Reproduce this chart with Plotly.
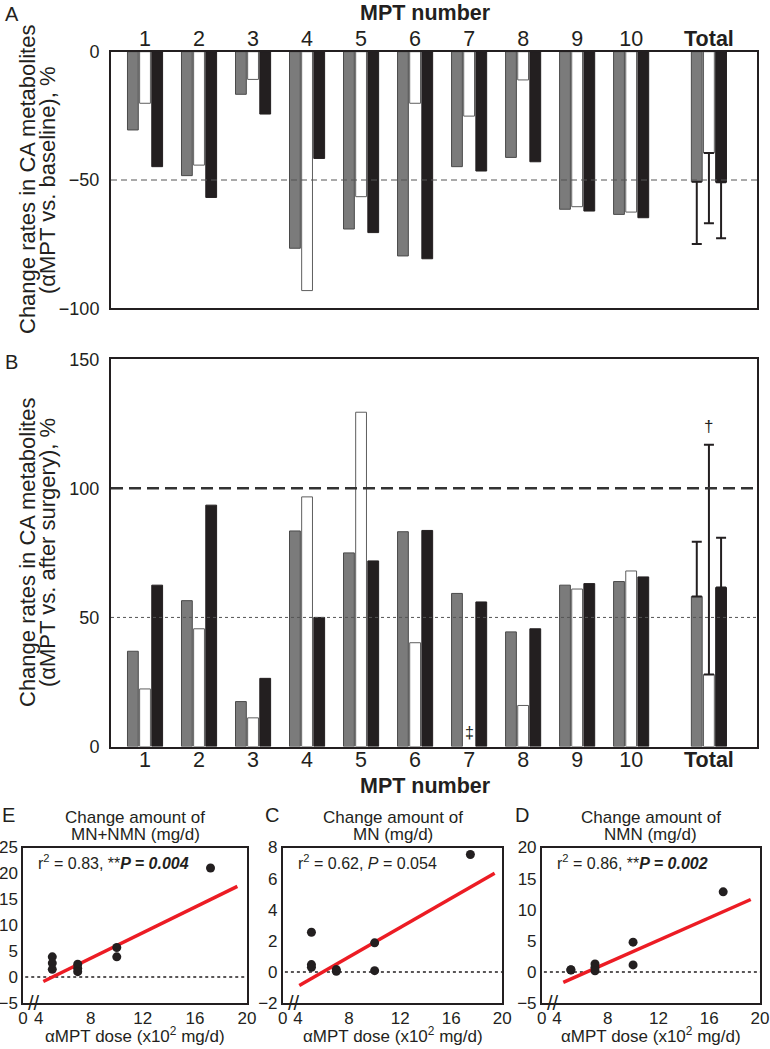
import plotly.graph_objects as go

FONT = "Liberation Sans, Arial, sans-serif"
INK = "#231f20"
W_PX, H_PX = 770, 1049

# ---------------- data ----------------
categories = ["1", "2", "3", "4", "5", "6", "7", "8", "9", "10", "Total"]

# Panel A: change rates vs. baseline (%)
a_gray = [-30.5, -48.3, -16.6, -76.6, -69.1, -79.6, -44.8, -41.2, -61.4, -63.4, -50.7]
a_white = [-20.1, -44.2, -10.8, -93.1, -56.5, -20.1, -25.1, -11.0, -60.4, -62.5, -39.5]
a_black = [-44.8, -56.8, -24.3, -41.6, -70.5, -80.7, -46.5, -42.9, -62.1, -64.7, -50.9]
a_total_err = [24.2, 27.4, 21.8]          # gray, white, black (downward SD)

# Panel B: change rates vs. after surgery (%)
b_gray = [36.9, 56.5, 17.4, 83.5, 75.0, 83.2, 59.3, 44.4, 62.5, 63.9, 58.1]
b_white = [22.3, 45.6, 11.1, 96.7, 129.5, 40.2, None, 15.9, 61.0, 68.0, 27.9]
b_black = [62.5, 93.5, 26.4, 50.0, 71.9, 83.7, 56.0, 45.6, 63.1, 65.7, 61.6]
b_total_err = [21.2, 89.0, 19.3]          # gray, white, black (upward SD)

# Scatter panels: αMPT dose (x10^2 mg/d) vs change amount (mg/d)
e_dose = [5.05, 5.05, 5.05, 7.0, 7.0, 7.0, 10.0, 10.0, 17.2]
e_val = [3.9, 2.7, 1.5, 2.5, 1.7, 1.05, 5.7, 3.9, 21.05]
e_fit_x = [4.36, 19.26]
e_fit_y = [-0.86, 17.5]

c_dose = [5.05, 5.05, 5.05, 7.0, 7.0, 10.0, 10.0, 17.5]
c_val = [2.55, 0.47, 0.3, 0.15, 0.04, 1.87, 0.08, 7.55]
c_fit_x = [4.1, 19.4]
c_fit_y = [-0.88, 6.34]

d_dose = [5.1, 5.1, 7.0, 7.0, 7.0, 10.0, 10.0, 17.1]
d_val = [0.3, 0.35, 1.28, 0.73, 0.19, 4.78, 1.12, 12.87]
d_fit_x = [4.5, 19.27]
d_fit_y = [-1.7, 11.64]

dose_ticks = [4, 8, 12, 16, 20]

# ---------------- layout helpers (pixels -> paper) ----------------
def px_x(px):
    return px / W_PX


def px_y(py):
    return 1 - py / H_PX


TOTAL_GAP = 0.44
cat_pos = [i + 1 for i in range(10)] + [11 + TOTAL_GAP]
BAR_W = 0.2
SHIFT = 0.225
GRAY, GRAY_EDGE = "#7b7b7b", "#4a4a4a"
WHITE, WHITE_EDGE = "#ffffff", "#5e5e5e"
BLACK, BLACK_EDGE = INK, INK

fig = go.Figure()

series_a = [(a_gray, GRAY, GRAY_EDGE, -SHIFT), (a_white, WHITE, WHITE_EDGE, 0.0), (a_black, BLACK, BLACK_EDGE, SHIFT)]
series_b = [(b_gray, GRAY, GRAY_EDGE, -SHIFT), (b_white, WHITE, WHITE_EDGE, 0.0), (b_black, BLACK, BLACK_EDGE, SHIFT)]

for vals, fill, edge, dx in series_a:
    fig.add_trace(go.Bar(x=cat_pos, y=vals, width=BAR_W, offset=dx - BAR_W / 2,
                         marker=dict(color=fill, line=dict(color=edge, width=1)),
                         xaxis="x", yaxis="y", showlegend=False, hoverinfo="skip"))
for (vals, fill, edge, dx), err in zip(series_a, a_total_err):
    fig.add_trace(go.Scatter(x=[cat_pos[-1] + dx], y=[vals[-1]], mode="markers",
                             marker=dict(size=1, color="rgba(0,0,0,0)"),
                             error_y=dict(type="data", symmetric=False, array=[0], arrayminus=[err],
                                          color=INK, thickness=2, width=5),
                             xaxis="x", yaxis="y", showlegend=False, hoverinfo="skip"))

for vals, fill, edge, dx in series_b:
    fig.add_trace(go.Bar(x=cat_pos, y=vals, width=BAR_W, offset=dx - BAR_W / 2,
                         marker=dict(color=fill, line=dict(color=edge, width=1)),
                         xaxis="x2", yaxis="y2", showlegend=False, hoverinfo="skip"))
for (vals, fill, edge, dx), err in zip(series_b, b_total_err):
    fig.add_trace(go.Scatter(x=[cat_pos[-1] + dx], y=[vals[-1]], mode="markers",
                             marker=dict(size=1, color="rgba(0,0,0,0)"),
                             error_y=dict(type="data", symmetric=False, array=[err], arrayminus=[0],
                                          color=INK, thickness=2, width=5),
                             xaxis="x2", yaxis="y2", showlegend=False, hoverinfo="skip"))

# scatter panels
scatter_sets = [
    ("x3", "y3", e_dose, e_val, e_fit_x, e_fit_y),
    ("x4", "y4", c_dose, c_val, c_fit_x, c_fit_y),
    ("x5", "y5", d_dose, d_val, d_fit_x, d_fit_y),
]
for xa, ya, dx_, dy_, fx, fy in scatter_sets:
    fig.add_trace(go.Scatter(x=fx, y=fy, mode="lines", line=dict(color="#ec1c24", width=3.5),
                             xaxis=xa, yaxis=ya, showlegend=False, hoverinfo="skip"))
    fig.add_trace(go.Scatter(x=dx_, y=dy_, mode="markers", marker=dict(color=INK, size=9),
                             xaxis=xa, yaxis=ya, showlegend=False, hoverinfo="skip"))

# ---------------- axes ----------------
XR = [0.37, 12.33]
bar_xaxis = dict(range=XR, tickvals=cat_pos,
                 ticktext=categories[:-1] + ["<b>Total</b>"],
                 showline=True, mirror=True, linecolor=INK, linewidth=2,
                 ticks="", ticklen=0, showgrid=False, zeroline=False,
                 tickfont=dict(size=21.5, color=INK, family=FONT))
bar_yaxis = dict(showline=True, mirror=True, linecolor=INK, linewidth=2,
                 ticks="", showgrid=False, zeroline=False, ticklabelstandoff=6,
                 tickfont=dict(size=18, color=INK, family=FONT))

layout = dict(
    width=W_PX, height=H_PX, autosize=False,
    margin=dict(l=0, r=0, t=0, b=0, autoexpand=False),
    paper_bgcolor="white", plot_bgcolor="white",
    barmode="overlay",
    font=dict(family=FONT, color=INK),
    xaxis=dict(**bar_xaxis, domain=[px_x(111), px_x(757)], anchor="y", side="top", ticklabelstandoff=-5),
    yaxis=dict(**bar_yaxis, domain=[px_y(308.3), px_y(51.7)], anchor="x", range=[-100, 0],
               tickvals=[0, -50, -100]),
    xaxis2=dict(**bar_xaxis, domain=[px_x(111), px_x(757)], anchor="y2", side="bottom", ticklabelstandoff=-7),
    yaxis2=dict(**bar_yaxis, domain=[px_y(746.5), px_y(359.3)], anchor="x2", range=[0, 150],
                tickvals=[0, 50, 100, 150]),
)

XS = [2.8, 20]
sc_doms = [(23, 247), (282.7, 502.3), (541.7, 760)]
sc_yr = [([-5, 25], [-5, 0, 5, 10, 15, 20, 25]),
         ([-2, 8], [-2, 0, 2, 4, 6, 8]),
         ([-5, 20], [-5, 0, 5, 10, 15, 20])]
for i, ((l, r), (yr, yt)) in enumerate(zip(sc_doms, sc_yr)):
    n = i + 3
    layout[f"xaxis{n}"] = dict(domain=[px_x(l), px_x(r)], anchor=f"y{n}", range=XS,
                               tickvals=[XS[0]] + dose_ticks, ticktext=["0"] + [str(t) for t in dose_ticks],
                               showline=True, mirror=True, linecolor=INK, linewidth=1.5,
                               ticks="", ticklen=0, showgrid=False, zeroline=False, ticklabelstandoff=-1,
                               tickfont=dict(size=17, color=INK, family=FONT))
    layout[f"yaxis{n}"] = dict(domain=[px_y(1003), px_y(847.5)], anchor=f"x{n}", range=yr,
                               tickvals=yt, showline=True, mirror=True, linecolor=INK, linewidth=1.5,
                               ticks="", showgrid=False, zeroline=False, ticklabelstandoff=0,
                               tickfont=dict(size=17, color=INK, family=FONT))

fig.update_layout(**layout)

# ---------------- reference lines ----------------
shapes = [
    dict(type="line", xref="x domain", yref="y", x0=0, x1=1, y0=-50, y1=-50,
         line=dict(color="#555", width=1, dash="6px,4px"), layer="above"),
    dict(type="line", xref="x2 domain", yref="y2", x0=0, x1=1, y0=100, y1=100,
         line=dict(color="#333", width=2.5, dash="12px,6px"), layer="above"),
    dict(type="line", xref="x2 domain", yref="y2", x0=0, x1=1, y0=50, y1=50,
         line=dict(color="#555", width=1, dash="dot"), layer="above"),
]
for n in (3, 4, 5):
    shapes.append(dict(type="line", xref=f"x{n} domain", yref=f"y{n}", x0=0.01, x1=1, y0=0, y1=0,
                       line=dict(color=INK, width=1.5, dash="dot"), layer="below"))
fig.update_layout(shapes=shapes)

# ---------------- annotations ----------------
def ann(text, x, y, size, xanchor="center", yanchor="middle", angle=0, bold=False):
    return dict(text=(f"<b>{text}</b>" if bold else text), x=px_x(x), y=px_y(y), xref="paper", yref="paper",
                showarrow=False, xanchor=xanchor, yanchor=yanchor, textangle=angle,
                font=dict(size=size, color=INK, family=FONT))

anns = [
    ann("A", 3, 14, 20, xanchor="left"),
    ann("B", 3, 362, 20, xanchor="left"),
    ann("MPT number", 425, 13, 21.5, bold=True),
    ann("MPT number", 425, 786, 21.5, bold=True),
    ann("Change rates in CA metabolites", 27, 180, 22, angle=-90),
    ann("(αMPT vs. baseline), %", 47, 180, 22, angle=-90),
    ann("Change rates in CA metabolites", 27, 553, 22, angle=-90),
    ann("(αMPT vs. after surgery), %", 47, 553, 22, angle=-90),
    # B markers
    dict(text="†", x=cat_pos[-1], y=124, xref="x2", yref="y2", showarrow=False,
         font=dict(size=17, color=INK, family=FONT)),
    dict(text="‡", x=cat_pos[6], y=5.5, xref="x2", yref="y2", showarrow=False,
         font=dict(size=16, color=INK, family=FONT)),
]

sc_titles = ["MN+NMN (mg/d)", "MN (mg/d)", "NMN (mg/d)"]
sc_letters = [("E", 8), ("C", 272), ("D", 522)]
sc_stats = ["r<sup>2</sup> = 0.83, **<b><i>P = 0.004</i></b>",
            "r<sup>2</sup> = 0.62, <i>P</i> = 0.054",
            "r<sup>2</sup> = 0.86, **<b><i>P = 0.002</i></b>"]
for (l, r), t, (let, lx), st in zip(sc_doms, sc_titles, sc_letters, sc_stats):
    cx = (l + r) / 2
    anns.append(ann("Change amount of", cx, 817, 17))
    anns.append(ann(t, cx, 834, 17))
    anns.append(ann(let, lx, 815, 20))
    anns.append(ann(st, l + 13, 862, 16, xanchor="left"))
    anns.append(ann("αMPT dose (x10<sup>2</sup> mg/d)", cx, 1035, 17))
    anns.append(ann("//", l + 11, 1003, 20))

fig.update_layout(annotations=anns)

fig.write_html("out.html", config={"displayModeBar": False},
               post_script="document.body.style.margin='0';document.body.style.overflow='hidden';")
